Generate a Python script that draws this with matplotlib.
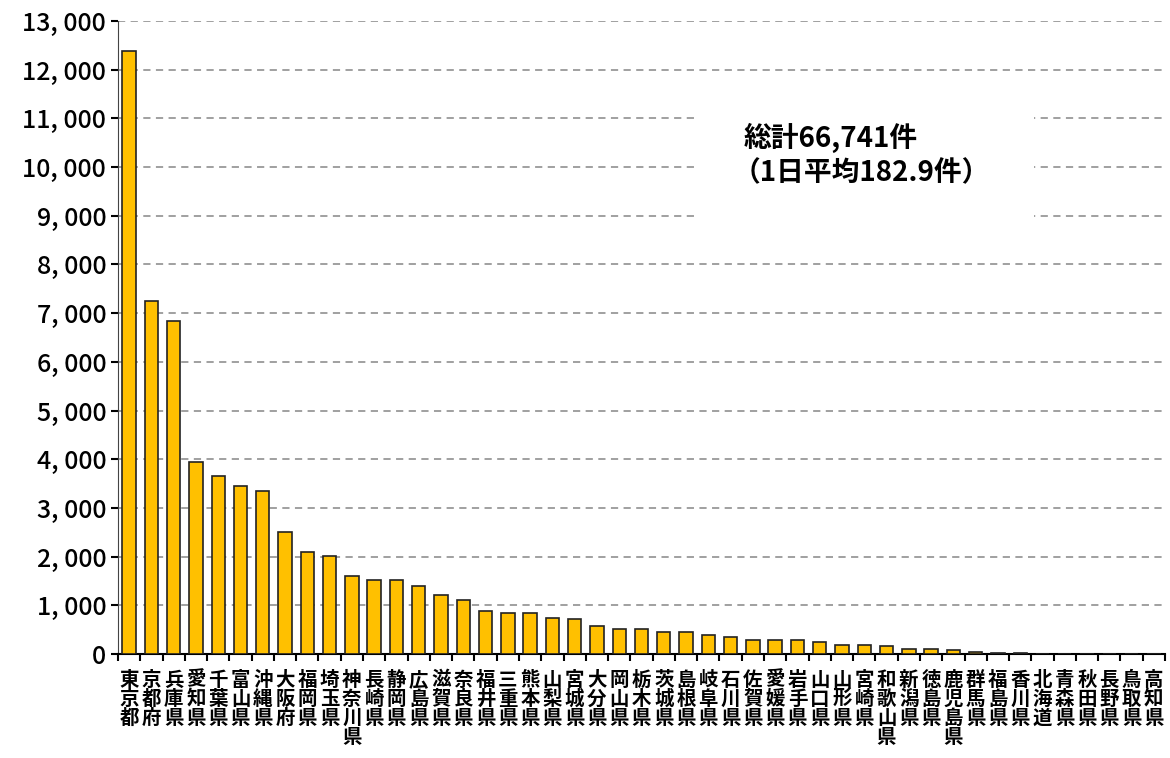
import numpy as np
import matplotlib.pyplot as plt
from matplotlib.patches import Rectangle
from matplotlib.ticker import FuncFormatter

plt.rcParams['font.family'] = ['Noto Sans CJK JP', 'DejaVu Sans']

# 都道府県別件数
prefs = ['東京都', '京都府', '兵庫県', '愛知県', '千葉県', '富山県', '沖縄県', '大阪府', '福岡県', '埼玉県',
         '神奈川県', '長崎県', '静岡県', '広島県', '滋賀県', '奈良県', '福井県', '三重県', '熊本県', '山梨県',
         '宮城県', '大分県', '岡山県', '栃木県', '茨城県', '島根県', '岐阜県', '石川県', '佐賀県', '愛媛県',
         '岩手県', '山口県', '山形県', '宮崎県', '和歌山県', '新潟県', '徳島県', '鹿児島県', '群馬県', '福島県',
         '香川県', '北海道', '青森県', '秋田県', '長野県', '鳥取県', '高知県']
counts = [12380, 7240, 6840, 3950, 3665, 3440, 3340, 2500, 2105, 2020,
          1600, 1510, 1510, 1390, 1215, 1100, 875, 850, 850, 735,
          710, 570, 510, 510, 455, 455, 395, 340, 285, 285,
          285, 250, 195, 195, 170, 105, 105, 75, 45, 15,
          15, 0, 0, 0, 0, 0, 0]
yticks = np.arange(0, 14000, 1000)
note1 = '総計66,741件'
note2 = '（1日平均182.9件）'

fig = plt.figure(figsize=(11.7, 7.58), dpi=100)
ax = fig.add_axes([118 / 1170, 104 / 758, 1047 / 1170, 633 / 758])

x = np.arange(len(prefs))
ax.bar(x, counts, width=0.6, color='#FFC000', edgecolor='#222222', linewidth=1.2, zorder=3)

ax.set_xlim(-0.5, len(prefs) - 0.5)
ax.set_ylim(0, 13000)
ax.set_yticks(yticks)
ax.yaxis.set_major_formatter(FuncFormatter(lambda v, p: '{:,}'.format(int(v)).replace(',', ', ')))
ax.grid(axis='y', linestyle=(0, (4, 3)), color='#999999', linewidth=1.3, zorder=0)

# 目盛りは棒の間
ax.set_xticks(np.arange(-0.5, len(prefs), 1.0))
ax.set_xticklabels([])
ax.set_xticks(x, minor=True)
ax.set_xticklabels(['\n'.join(p) for p in prefs], minor=True, fontsize=14, fontweight='bold',
                   va='top', linespacing=1.0)
ax.tick_params(axis='x', which='minor', length=0, pad=12)
ax.tick_params(axis='x', which='major', length=5, width=1.5, direction='out')
ax.tick_params(axis='y', length=5, width=1.5, direction='out', labelsize=18)
for t in ax.get_yticklabels():
    t.set_fontweight('medium')

for s in ['top', 'right']:
    ax.spines[s].set_visible(False)
ax.spines['left'].set_color('#444444')
ax.spines['bottom'].set_linewidth(1.5)

# 注記（白い背景）
ax.add_patch(Rectangle((25.5, 8500), 15.1, 2800, facecolor='white', edgecolor='none', zorder=2))
ax.text(27.6, 10600, note1, fontsize=20, fontweight='bold', va='center', ha='left', zorder=4)
ax.text(27.1, 9880, note2, fontsize=20, fontweight='bold', va='center', ha='left', zorder=4)

fig.savefig('out.png', dpi=100)
